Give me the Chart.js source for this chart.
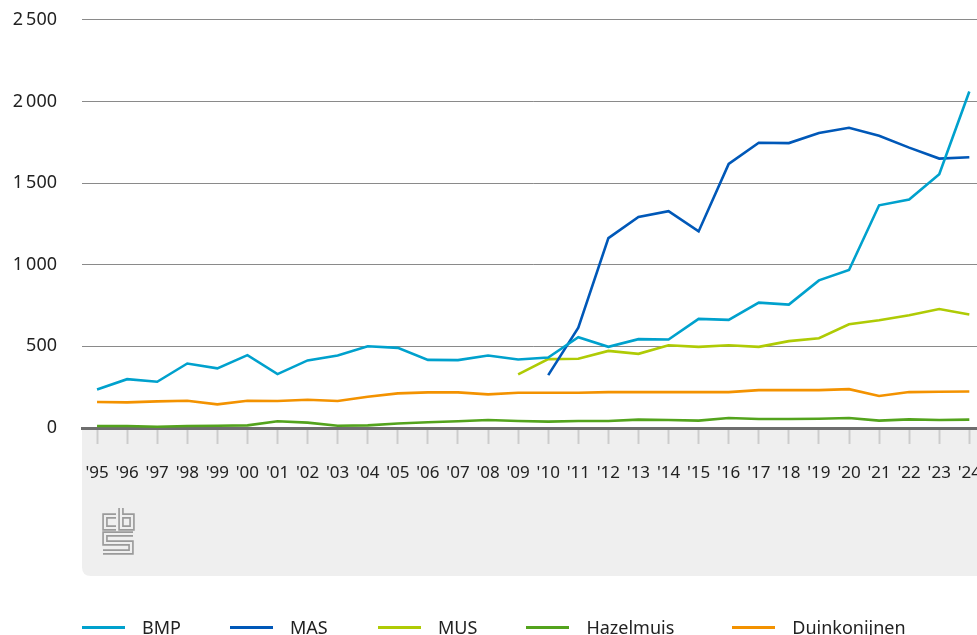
<!DOCTYPE html>
<html>
<head>
<meta charset="utf-8">
<script src="https://cdn.jsdelivr.net/npm/chart.js@4/dist/chart.umd.min.js"></script>
<style>
  html, body { margin: 0; padding: 0; background: #fff; }
  #wrap { position: relative; width: 977px; height: 635px; overflow: hidden; }
  #c { position: absolute; left: 0; top: -16px; }
  #legend { position: absolute; left: 82px; top: 615px; display: flex; align-items: center;
            font-family: "Noto Sans", sans-serif; font-size: 18px; color: #222; line-height: 24px; white-space: nowrap; }
  .item { display: flex; align-items: center; margin-right: 49px; min-width: 99px; }
  .item:nth-child(4) { margin-right: 58px; }
  .swatch { width: 43px; height: 3px; margin-right: 17px; }
</style>
</head>
<body>
<div id="wrap">
  <canvas id="c" width="1000" height="651"></canvas>
  <div id="legend"></div>
</div>
<script>
const years = ["'95","'96","'97","'98","'99","'00","'01","'02","'03","'04","'05","'06","'07","'08","'09","'10","'11","'12","'13","'14","'15","'16","'17","'18","'19","'20","'21","'22","'23","'24"];
const bmp = [236,299,283,395,365,446,330,414,444,501,491,417,416,444,420,432,556,497,544,542,668,662,768,756,904,968,1364,1399,1554,2061];
const mas = [null,null,null,null,null,null,null,null,null,null,null,null,null,null,null,324,615,1163,1293,1328,1204,1617,1747,1745,1807,1839,1790,1717,1650,1658];
const mus = [null,null,null,null,null,null,null,null,null,null,null,null,null,null,328,422,424,472,454,507,497,507,497,532,550,635,660,690,729,695];
const hazelmuis = [12,12,8,12,14,16,41,33,14,16,28,35,41,49,43,39,43,43,51,49,45,61,55,55,57,61,45,53,49,51];
const duinkonijnen = [159,157,163,167,145,167,165,173,165,191,212,218,218,206,216,216,216,220,220,220,220,220,232,232,232,238,196,220,222,224];
const yTicks = [0,500,1000,1500,2000,2500];

const seriesNames = ["BMP","MAS","MUS","Hazelmuis","Duinkonijnen"];
const seriesColors = ["#00a1cd","#0058b8","#afcb05","#53a31d","#f39200"];
const seriesData = [bmp, mas, mus, hazelmuis, duinkonijnen];

const FONT = '"Noto Sans", sans-serif';

const bgPlugin = {
  id: 'bgbox',
  beforeDraw(chart) {
    const ctx = chart.ctx, a = chart.chartArea;
    const x0 = a.left, y0 = a.bottom, x1 = chart.width, y1 = a.bottom + 148, r = 9;
    ctx.save();
    ctx.fillStyle = '#efefef';
    ctx.beginPath();
    ctx.moveTo(x0, y0);
    ctx.lineTo(x1, y0);
    ctx.lineTo(x1, y1);
    ctx.lineTo(x0 + r, y1);
    ctx.quadraticCurveTo(x0, y1, x0, y1 - r);
    ctx.closePath();
    ctx.fill();
    // cbs logo (outlined strokes), relative to the gray panel
    const ox = x0, oy = a.bottom;
    const paths = [
      [[34,88],[23,88],[23,100],[34,100]],
      [[39,80],[39,100],[50,100],[50,88],[39,88]],
      [[51,106],[23,106],[23,115],[49,115],[49,124],[21,124]]
    ];
    ctx.lineJoin = 'miter';
    ctx.lineCap = 'butt';
    for (const p of paths) {
      ctx.beginPath();
      p.forEach((pt, i) => i ? ctx.lineTo(ox + pt[0], oy + pt[1]) : ctx.moveTo(ox + pt[0], oy + pt[1]));
      ctx.strokeStyle = '#9a9a9a'; ctx.lineWidth = 5.5; ctx.stroke();
      ctx.strokeStyle = '#efefef'; ctx.lineWidth = 2.2; ctx.stroke();
    }
    ctx.restore();
  }
};

const datasets = seriesNames.map((n, i) => ({
  label: n,
  data: seriesData[i],
  borderColor: seriesColors[i],
  backgroundColor: seriesColors[i],
  borderWidth: 2.6,
  pointRadius: 0,
  tension: 0,
  fill: false,
  spanGaps: false
}));

new Chart(document.getElementById('c'), {
  type: 'line',
  data: { labels: years, datasets },
  plugins: [bgPlugin],
  options: {
    responsive: false,
    animation: false,
    layout: { padding: { top: 3, right: 2, left: 0, bottom: 0 } },
    plugins: { legend: { display: false }, tooltip: { enabled: false } },
    scales: {
      x: {
        offset: true,
        grid: { drawOnChartArea: false, drawTicks: true, tickLength: 16, tickWidth: 2, tickColor: '#cccccc', offset: false },
        border: { display: true, color: '#6e6e6e', width: 3 },
        ticks: { font: { family: FONT, size: 17 }, color: '#222', padding: 19, maxRotation: 0, autoSkip: false },
        afterFit(s) { s.height = 207; }
      },
      y: {
        min: 0, max: 2500,
        afterBuildTicks(s) { s.ticks = yTicks.map(v => ({ value: v })); },
        grid: { color: '#8a8a8a', lineWidth: 1, drawTicks: false },
        border: { display: false },
        ticks: {
          font: { family: FONT, size: 18 }, color: '#222', padding: 25,
          callback: v => v >= 1000 ? Math.floor(v / 1000) + '\u2009' + String(v % 1000).padStart(3, '0') : String(v)
        },
        afterFit(s) { s.width = 82; }
      }
    }
  }
});

const leg = document.getElementById('legend');
seriesNames.forEach((n, i) => {
  const it = document.createElement('div'); it.className = 'item';
  const sw = document.createElement('span'); sw.className = 'swatch'; sw.style.background = seriesColors[i];
  const tx = document.createElement('span'); tx.textContent = n;
  it.appendChild(sw); it.appendChild(tx); leg.appendChild(it);
});
</script>
</body>
</html>
